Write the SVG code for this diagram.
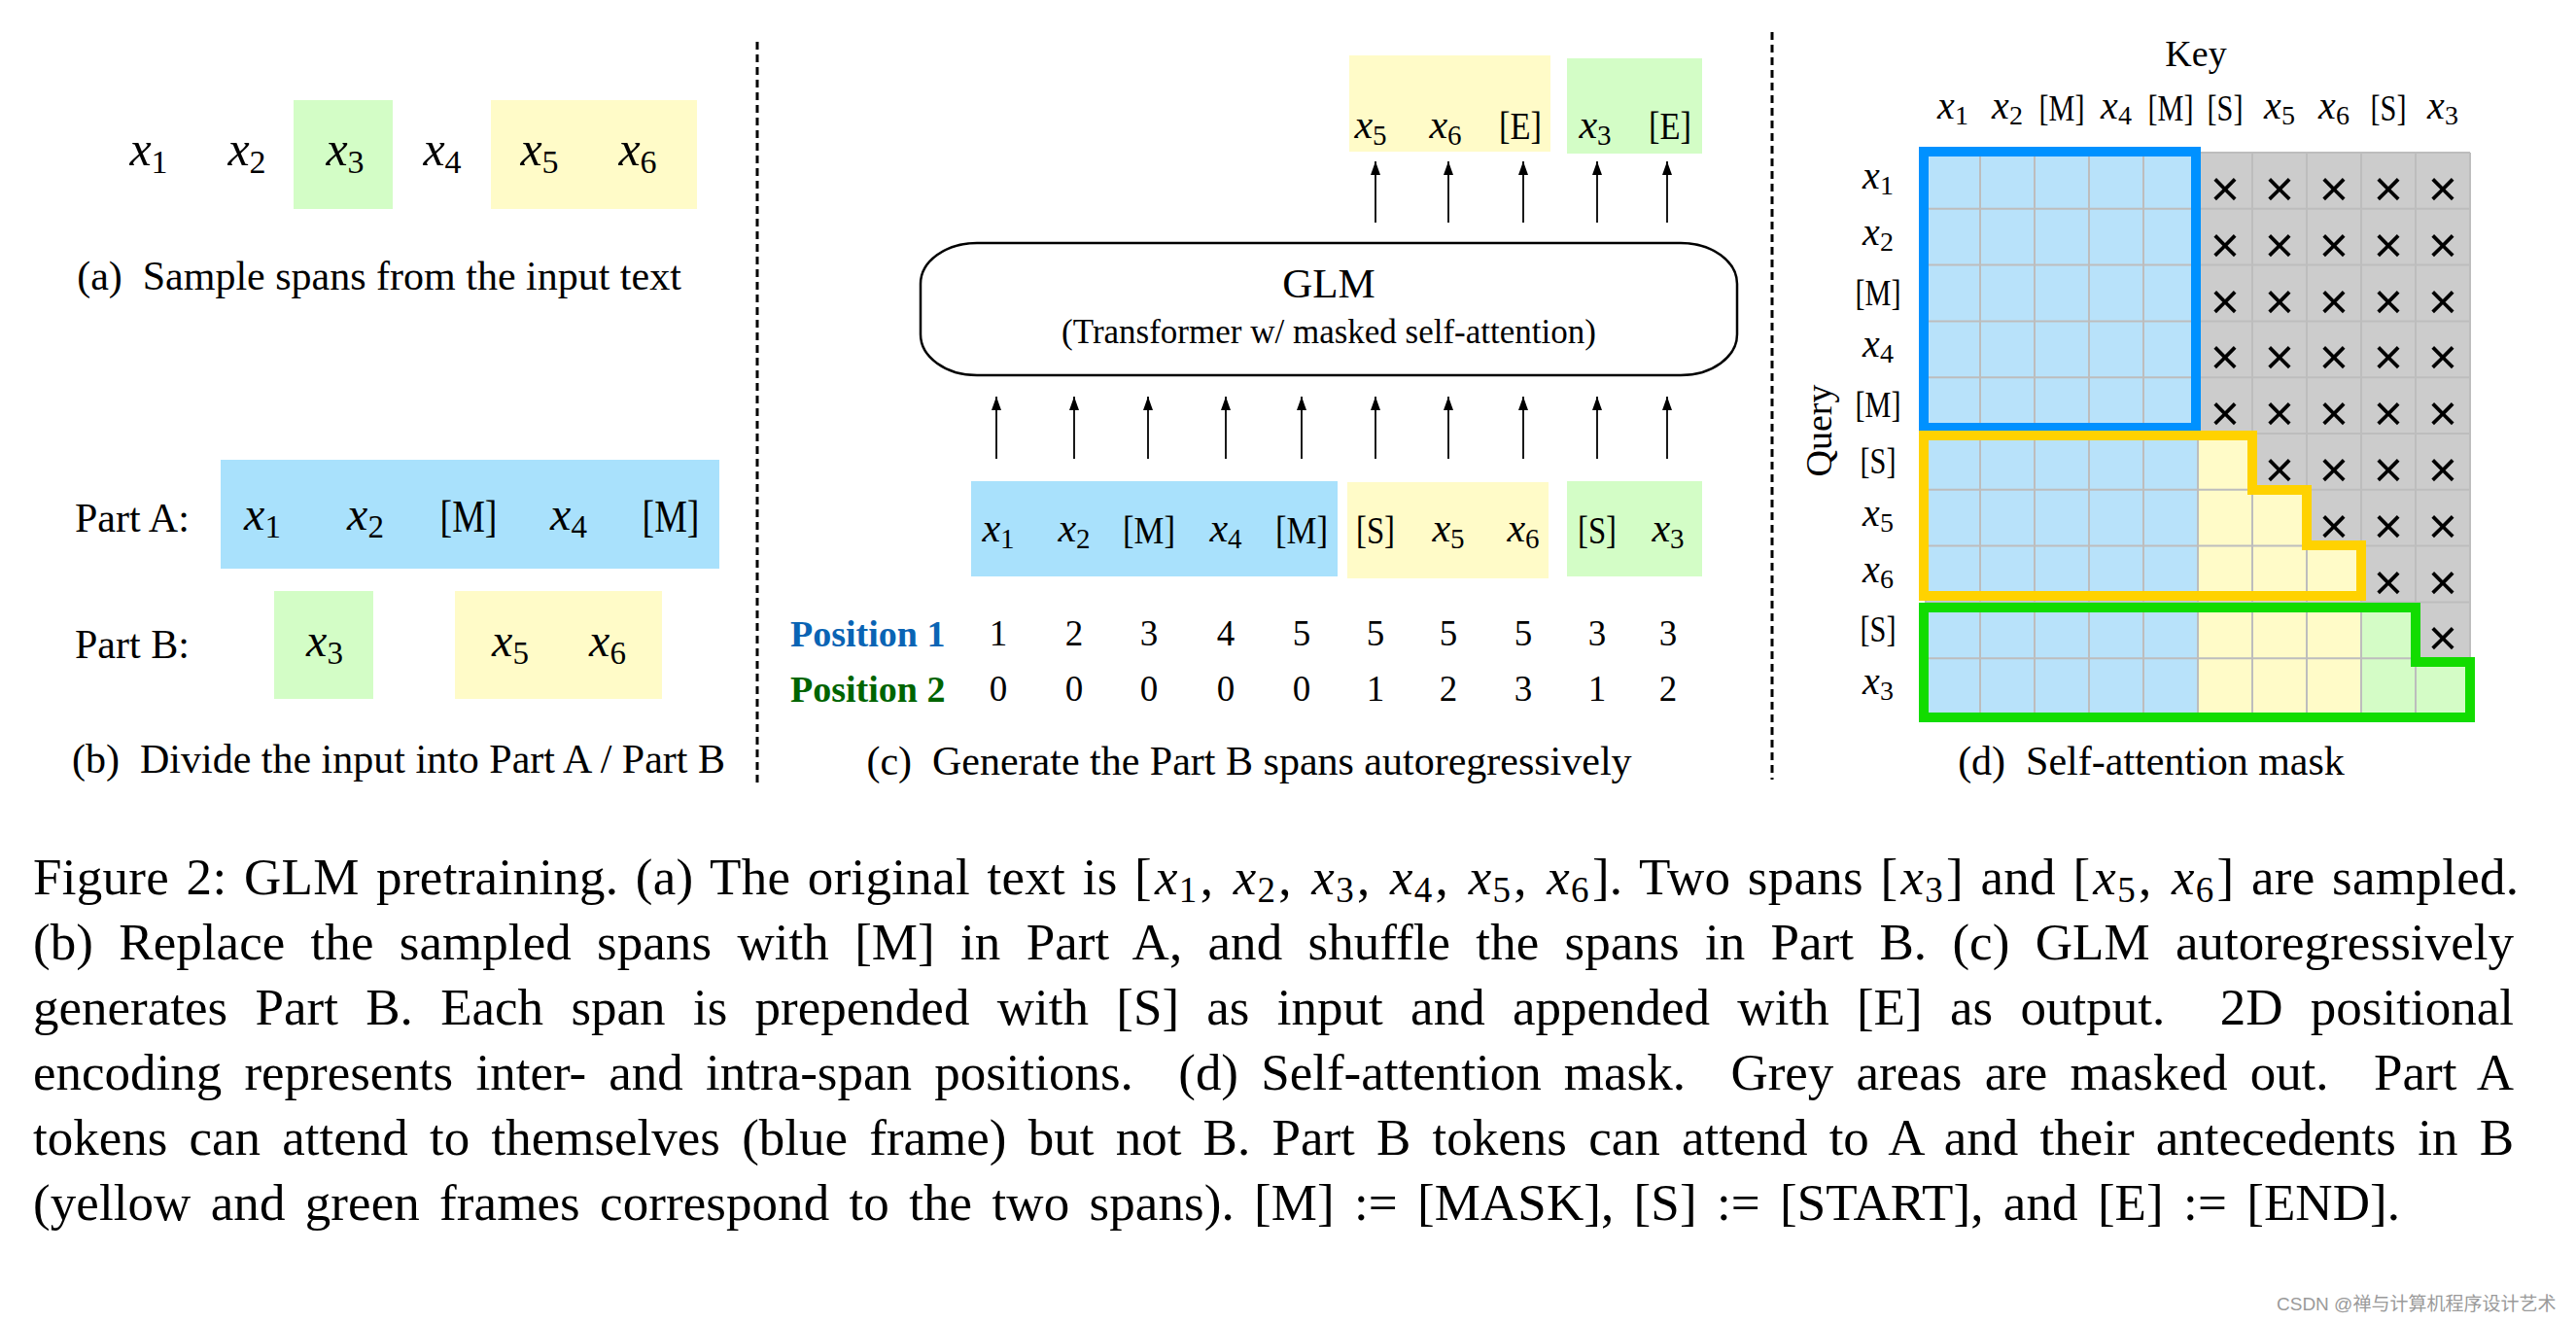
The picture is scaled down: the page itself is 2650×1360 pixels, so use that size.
<svg xmlns="http://www.w3.org/2000/svg" width="2650" height="1360" viewBox="0 0 2650 1360">
<style>
text{font-family:"Liberation Serif","Times New Roman",serif;fill:#000}
.m{text-anchor:middle}
.i{font-style:italic}
.cap{font-size:42px;white-space:pre}
.pa{font-size:50px}
.pb{font-size:48px}
.pc{font-size:42px}
.pd{font-size:40px}
.num{font-size:37px;text-anchor:middle}
.pos{font-size:38px;font-weight:bold}
.cross{font-family:"Liberation Sans",Arial,sans-serif;font-size:52px;text-anchor:middle}
.para{font-size:53px;white-space:pre}
.blue{fill:#A9E1FC}
.yel{fill:#FFFBC8}
.grn{fill:#D3FDC6}
.dash{stroke:#000;stroke-width:3;stroke-dasharray:8 5;fill:none}
.arr{stroke:#000;stroke-width:1.8;fill:none;marker-end:url(#ah)}
.gl{stroke:#BDBDBD;stroke-width:2;fill:none}
.fr{fill:none;stroke-width:10;stroke-linejoin:miter}
</style>
<defs>
<marker id="ah" markerUnits="userSpaceOnUse" markerWidth="16" markerHeight="12" refX="14" refY="5" orient="auto">
<path d="M0,0 L14,5 L0,10 Z" fill="#000"/>
</marker>
</defs>
<rect width="2650" height="1360" fill="#fff"/>

<!-- separators -->
<line class="dash" x1="779" y1="43" x2="779" y2="805"/>
<line class="dash" x1="1823" y1="33" x2="1823" y2="802"/>

<!-- (a) -->
<g id="panel-a">
<rect class="grn" x="302" y="103" width="102" height="112"/>
<rect class="yel" x="505" y="103" width="212" height="112"/>
<text class="m pa" x="153" y="170"><tspan class="i">x</tspan><tspan font-size="34" dy="8">1</tspan></text>
<text class="m pa" x="254" y="170"><tspan class="i">x</tspan><tspan font-size="34" dy="8">2</tspan></text>
<text class="m pa" x="355" y="170"><tspan class="i">x</tspan><tspan font-size="34" dy="8">3</tspan></text>
<text class="m pa" x="455" y="170"><tspan class="i">x</tspan><tspan font-size="34" dy="8">4</tspan></text>
<text class="m pa" x="555" y="170"><tspan class="i">x</tspan><tspan font-size="34" dy="8">5</tspan></text>
<text class="m pa" x="656" y="170"><tspan class="i">x</tspan><tspan font-size="34" dy="8">6</tspan></text>
<text class="m cap" x="390" y="298">(a)  Sample spans from the input text</text>
</g>

<!-- (b) -->
<g id="panel-b">
<rect class="blue" x="227" y="473" width="513" height="112"/>
<rect class="grn" x="282" y="608" width="102" height="111"/>
<rect class="yel" x="468" y="608" width="213" height="111"/>
<text class="cap" x="77" y="547">Part A:</text>
<text class="cap" x="77" y="677">Part B:</text>
<text class="m pb" x="270" y="545"><tspan class="i">x</tspan><tspan font-size="33" dy="8">1</tspan></text>
<text class="m pb" x="376" y="545"><tspan class="i">x</tspan><tspan font-size="33" dy="8">2</tspan></text>
<text class="m" x="482" y="547" font-size="46" textLength="59" lengthAdjust="spacingAndGlyphs">[M]</text>
<text class="m pb" x="585" y="545"><tspan class="i">x</tspan><tspan font-size="33" dy="8">4</tspan></text>
<text class="m" x="690" y="547" font-size="46" textLength="59" lengthAdjust="spacingAndGlyphs">[M]</text>
<text class="m pb" x="334" y="675"><tspan class="i">x</tspan><tspan font-size="33" dy="8">3</tspan></text>
<text class="m pb" x="525" y="675"><tspan class="i">x</tspan><tspan font-size="33" dy="8">5</tspan></text>
<text class="m pb" x="625" y="675"><tspan class="i">x</tspan><tspan font-size="33" dy="8">6</tspan></text>
<text class="m cap" x="410" y="795">(b)  Divide the input into Part A / Part B</text>
</g>

<!-- (c) -->
<g id="panel-c">
<g id="outputs">
<rect class="yel" x="1388" y="57" width="207" height="99"/>
<rect class="grn" x="1612" y="60" width="139" height="98"/>
<text class="m pc" x="1410" y="142"><tspan class="i">x</tspan><tspan font-size="29" dy="7">5</tspan></text>
<text class="m pc" x="1487" y="142"><tspan class="i">x</tspan><tspan font-size="29" dy="7">6</tspan></text>
<text class="m" x="1564" y="143" font-size="40" textLength="44" lengthAdjust="spacingAndGlyphs">[E]</text>
<text class="m pc" x="1641" y="142"><tspan class="i">x</tspan><tspan font-size="29" dy="7">3</tspan></text>
<text class="m" x="1718" y="143" font-size="40" textLength="44" lengthAdjust="spacingAndGlyphs">[E]</text>
</g>
<g id="glm">
<rect x="947" y="250" width="840" height="136" rx="58" ry="42" fill="#fff" stroke="#000" stroke-width="2.5"/>
<text class="m" x="1367" y="306" font-size="43">GLM</text>
<text class="m" x="1367" y="353" font-size="35">(Transformer w/ masked self-attention)</text>
</g>
<g id="inputs">
<rect class="blue" x="999" y="495" width="377" height="98"/>
<rect class="yel" x="1386" y="496" width="207" height="99"/>
<rect class="grn" x="1612" y="495" width="139" height="98"/>
<text class="m pc" x="1027" y="557"><tspan class="i">x</tspan><tspan font-size="29" dy="7">1</tspan></text>
<text class="m pc" x="1105" y="557"><tspan class="i">x</tspan><tspan font-size="29" dy="7">2</tspan></text>
<text class="m" x="1182" y="559" font-size="40" textLength="54" lengthAdjust="spacingAndGlyphs">[M]</text>
<text class="m pc" x="1261" y="557"><tspan class="i">x</tspan><tspan font-size="29" dy="7">4</tspan></text>
<text class="m" x="1339" y="559" font-size="40" textLength="54" lengthAdjust="spacingAndGlyphs">[M]</text>
<text class="m" x="1415" y="559" font-size="40" textLength="40" lengthAdjust="spacingAndGlyphs">[S]</text>
<text class="m pc" x="1490" y="557"><tspan class="i">x</tspan><tspan font-size="29" dy="7">5</tspan></text>
<text class="m pc" x="1567" y="557"><tspan class="i">x</tspan><tspan font-size="29" dy="7">6</tspan></text>
<text class="m" x="1643" y="559" font-size="40" textLength="40" lengthAdjust="spacingAndGlyphs">[S]</text>
<text class="m pc" x="1716" y="557"><tspan class="i">x</tspan><tspan font-size="29" dy="7">3</tspan></text>
</g>
<g id="positions">
<text class="pos" x="813" y="665" style="fill:#0A64B4">Position 1</text>
<text class="pos" x="813" y="722" style="fill:#006400">Position 2</text>
<text class="num" x="1027" y="664">1</text><text class="num" x="1105" y="664">2</text><text class="num" x="1182" y="664">3</text><text class="num" x="1261" y="664">4</text><text class="num" x="1339" y="664">5</text><text class="num" x="1415" y="664">5</text><text class="num" x="1490" y="664">5</text><text class="num" x="1567" y="664">5</text><text class="num" x="1643" y="664">3</text><text class="num" x="1716" y="664">3</text>
<text class="num" x="1027" y="721">0</text><text class="num" x="1105" y="721">0</text><text class="num" x="1182" y="721">0</text><text class="num" x="1261" y="721">0</text><text class="num" x="1339" y="721">0</text><text class="num" x="1415" y="721">1</text><text class="num" x="1490" y="721">2</text><text class="num" x="1567" y="721">3</text><text class="num" x="1643" y="721">1</text><text class="num" x="1716" y="721">2</text>
</g>
<text class="m cap" x="1285" y="797">(c)  Generate the Part B spans autoregressively</text>
</g>

<!-- connectors -->
<g id="connectors">
<line class="arr" x1="1415" y1="229" x2="1415" y2="166"/>
<line class="arr" x1="1490" y1="229" x2="1490" y2="166"/>
<line class="arr" x1="1567" y1="229" x2="1567" y2="166"/>
<line class="arr" x1="1643" y1="229" x2="1643" y2="166"/>
<line class="arr" x1="1715" y1="229" x2="1715" y2="166"/>
<line class="arr" x1="1025" y1="472" x2="1025" y2="408"/>
<line class="arr" x1="1105" y1="472" x2="1105" y2="408"/>
<line class="arr" x1="1181" y1="472" x2="1181" y2="408"/>
<line class="arr" x1="1261" y1="472" x2="1261" y2="408"/>
<line class="arr" x1="1339" y1="472" x2="1339" y2="408"/>
<line class="arr" x1="1415" y1="472" x2="1415" y2="408"/>
<line class="arr" x1="1490" y1="472" x2="1490" y2="408"/>
<line class="arr" x1="1567" y1="472" x2="1567" y2="408"/>
<line class="arr" x1="1643" y1="472" x2="1643" y2="408"/>
<line class="arr" x1="1715" y1="472" x2="1715" y2="408"/>
</g>

<!-- (d) -->
<g id="panel-d">
<text class="m" x="2259" y="68" font-size="38">Key</text>
<text class="m" font-size="38" transform="translate(1884,443) rotate(-90)">Query</text>
<g id="key-labels">
<text class="m pd" x="2009" y="122"><tspan class="i">x</tspan><tspan font-size="28" dy="6">1</tspan></text>
<text class="m pd" x="2065" y="122"><tspan class="i">x</tspan><tspan font-size="28" dy="6">2</tspan></text>
<text class="m" x="2121" y="124" font-size="38" textLength="47" lengthAdjust="spacingAndGlyphs">[M]</text>
<text class="m pd" x="2177" y="122"><tspan class="i">x</tspan><tspan font-size="28" dy="6">4</tspan></text>
<text class="m" x="2233" y="124" font-size="38" textLength="47" lengthAdjust="spacingAndGlyphs">[M]</text>
<text class="m" x="2289" y="124" font-size="38" textLength="37" lengthAdjust="spacingAndGlyphs">[S]</text>
<text class="m pd" x="2345" y="122"><tspan class="i">x</tspan><tspan font-size="28" dy="6">5</tspan></text>
<text class="m pd" x="2401" y="122"><tspan class="i">x</tspan><tspan font-size="28" dy="6">6</tspan></text>
<text class="m" x="2457" y="124" font-size="38" textLength="37" lengthAdjust="spacingAndGlyphs">[S]</text>
<text class="m pd" x="2513" y="122"><tspan class="i">x</tspan><tspan font-size="28" dy="6">3</tspan></text>
</g>
<g id="query-labels">
<text class="m pd" x="1932" y="194"><tspan class="i">x</tspan><tspan font-size="28" dy="6">1</tspan></text>
<text class="m pd" x="1932" y="252"><tspan class="i">x</tspan><tspan font-size="28" dy="6">2</tspan></text>
<text class="m" x="1932" y="314" font-size="38" textLength="47" lengthAdjust="spacingAndGlyphs">[M]</text>
<text class="m pd" x="1932" y="367"><tspan class="i">x</tspan><tspan font-size="28" dy="6">4</tspan></text>
<text class="m" x="1932" y="429" font-size="38" textLength="47" lengthAdjust="spacingAndGlyphs">[M]</text>
<text class="m" x="1932" y="487" font-size="38" textLength="37" lengthAdjust="spacingAndGlyphs">[S]</text>
<text class="m pd" x="1932" y="541"><tspan class="i">x</tspan><tspan font-size="28" dy="6">5</tspan></text>
<text class="m pd" x="1932" y="599"><tspan class="i">x</tspan><tspan font-size="28" dy="6">6</tspan></text>
<text class="m" x="1932" y="660" font-size="38" textLength="37" lengthAdjust="spacingAndGlyphs">[S]</text>
<text class="m pd" x="1932" y="714"><tspan class="i">x</tspan><tspan font-size="28" dy="6">3</tspan></text>
</g>
<g id="mask">
<rect x="1981" y="157" width="280" height="578" fill="#B8E2FA"/>
<rect x="2261" y="157" width="280" height="578" fill="#CCCCCC"/>
<path d="M2261,446 H2317 V503.8 H2373 V561.6 H2429 V735 H2261 Z" fill="#FFFBC8"/>
<path d="M2429,619.4 H2485 V677.2 H2541 V735 H2429 Z" fill="#D4FCC6"/>
<path class="gl" d="M1981,157 V735 M2037,157 V735 M2093,157 V735 M2149,157 V735 M2205,157 V735 M2261,157 V735 M2317,157 V735 M2373,157 V735 M2429,157 V735 M2485,157 V735 M2541,157 V735 M1981,157 H2541 M1981,214.8 H2541 M1981,272.6 H2541 M1981,330.4 H2541 M1981,388.2 H2541 M1981,446 H2541 M1981,503.8 H2541 M1981,561.6 H2541 M1981,619.4 H2541 M1981,677.2 H2541 M1981,735 H2541"/>
<g id="crosses">
<text class="cross" x="2289" y="212">×</text><text class="cross" x="2345" y="212">×</text><text class="cross" x="2401" y="212">×</text><text class="cross" x="2457" y="212">×</text><text class="cross" x="2513" y="212">×</text>
<text class="cross" x="2289" y="270">×</text><text class="cross" x="2345" y="270">×</text><text class="cross" x="2401" y="270">×</text><text class="cross" x="2457" y="270">×</text><text class="cross" x="2513" y="270">×</text>
<text class="cross" x="2289" y="328">×</text><text class="cross" x="2345" y="328">×</text><text class="cross" x="2401" y="328">×</text><text class="cross" x="2457" y="328">×</text><text class="cross" x="2513" y="328">×</text>
<text class="cross" x="2289" y="385">×</text><text class="cross" x="2345" y="385">×</text><text class="cross" x="2401" y="385">×</text><text class="cross" x="2457" y="385">×</text><text class="cross" x="2513" y="385">×</text>
<text class="cross" x="2289" y="443">×</text><text class="cross" x="2345" y="443">×</text><text class="cross" x="2401" y="443">×</text><text class="cross" x="2457" y="443">×</text><text class="cross" x="2513" y="443">×</text>
<text class="cross" x="2345" y="501">×</text><text class="cross" x="2401" y="501">×</text><text class="cross" x="2457" y="501">×</text><text class="cross" x="2513" y="501">×</text>
<text class="cross" x="2401" y="559">×</text><text class="cross" x="2457" y="559">×</text><text class="cross" x="2513" y="559">×</text>
<text class="cross" x="2457" y="617">×</text><text class="cross" x="2513" y="617">×</text>
<text class="cross" x="2513" y="674">×</text>
</g>
<rect class="fr" x="1979" y="156" width="280" height="284" stroke="#0091FF"/>
<path class="fr" d="M1979,448 H2317 V504 H2373 V561 H2429 V613 H1979 Z" stroke="#FFD200"/>
<path class="fr" d="M1979,625 H2485 V681 H2541 V738 H1979 Z" stroke="#12DC00"/>
</g>
<text class="m cap" x="2213" y="797">(d)  Self-attention mask</text>
</g>

<!-- caption -->
<g id="caption">
<text class="para" x="34" y="920" word-spacing="4" textLength="2557" lengthAdjust="spacing">Figure 2: GLM pretraining. (a) The original text is [<tspan class="i" dx="3">x</tspan><tspan font-size="37" dy="8" dx="1">1</tspan><tspan dy="-8" dx="3">, </tspan><tspan class="i" dx="3">x</tspan><tspan font-size="37" dy="8" dx="1">2</tspan><tspan dy="-8" dx="3">, </tspan><tspan class="i" dx="3">x</tspan><tspan font-size="37" dy="8" dx="1">3</tspan><tspan dy="-8" dx="3">, </tspan><tspan class="i" dx="3">x</tspan><tspan font-size="37" dy="8" dx="1">4</tspan><tspan dy="-8" dx="3">, </tspan><tspan class="i" dx="3">x</tspan><tspan font-size="37" dy="8" dx="1">5</tspan><tspan dy="-8" dx="3">, </tspan><tspan class="i" dx="3">x</tspan><tspan font-size="37" dy="8" dx="1">6</tspan><tspan dy="-8" dx="3">]. Two spans [</tspan><tspan class="i" dx="3">x</tspan><tspan font-size="37" dy="8" dx="1">3</tspan><tspan dy="-8" dx="3">] and [</tspan><tspan class="i" dx="3">x</tspan><tspan font-size="37" dy="8" dx="1">5</tspan><tspan dy="-8" dx="3">, </tspan><tspan class="i" dx="3">x</tspan><tspan font-size="37" dy="8" dx="1">6</tspan><tspan dy="-8" dx="3">] are sampled.</tspan></text>
<text class="para" x="34" y="987" word-spacing="13" textLength="2552" lengthAdjust="spacing">(b) Replace the sampled spans with [M] in Part A, and shuffle the spans in Part B. (c) GLM autoregressively</text>
<text class="para" x="34" y="1054" word-spacing="15" textLength="2552" lengthAdjust="spacing">generates Part B. Each span is prepended with [S] as input and appended with [E] as output.  2D positional</text>
<text class="para" x="34" y="1121" word-spacing="10" textLength="2552" lengthAdjust="spacing">encoding represents inter- and intra-span positions.  (d) Self-attention mask.  Grey areas are masked out.  Part A</text>
<text class="para" x="34" y="1188" word-spacing="9" textLength="2552" lengthAdjust="spacing">tokens can attend to themselves (blue frame) but not B. Part B tokens can attend to A and their antecedents in B</text>
<text class="para" x="34" y="1255" word-spacing="7" textLength="2435" lengthAdjust="spacing">(yellow and green frames correspond to the two spans). [M] := [MASK], [S] := [START], and [E] := [END].</text>
</g>
<text x="2342" y="1348" font-size="19" style="font-family:'Liberation Sans','Noto Sans CJK SC',sans-serif;fill:#9a9a9a">CSDN @禅与计算机程序设计艺术</text>
</svg>
